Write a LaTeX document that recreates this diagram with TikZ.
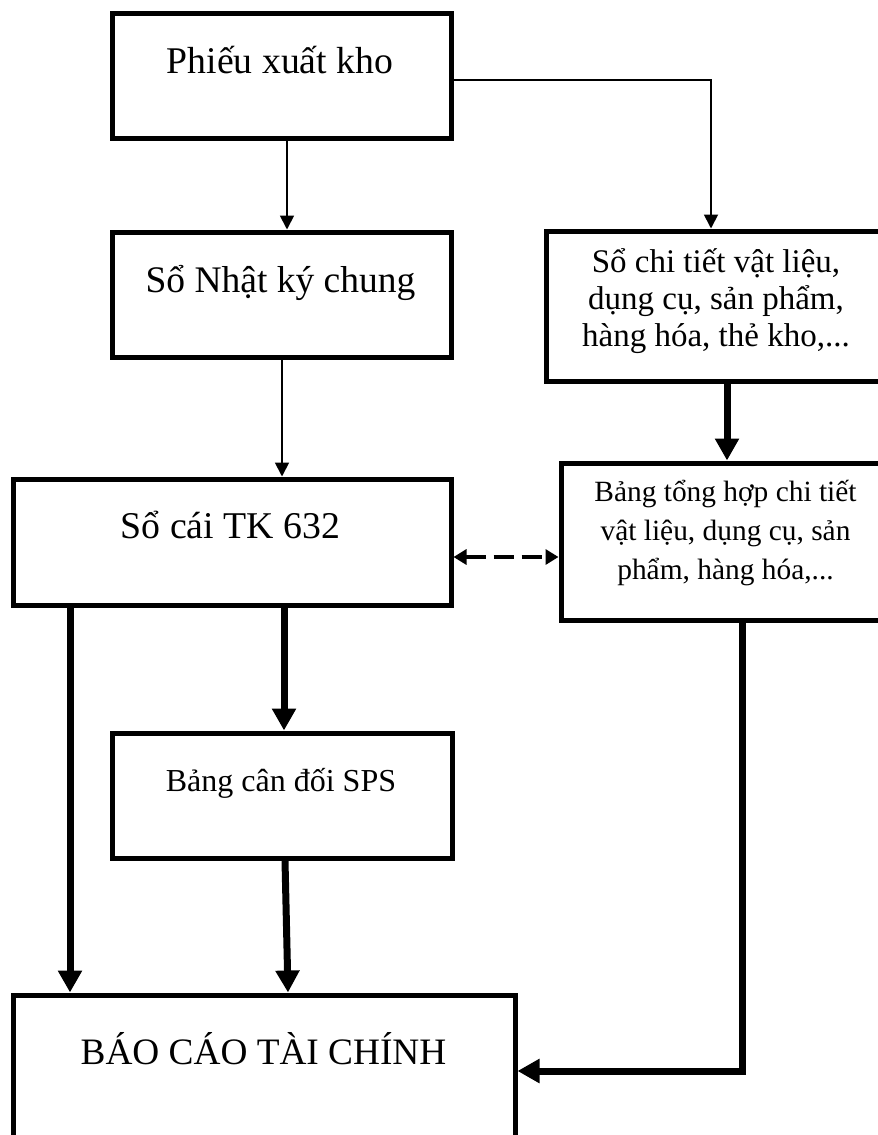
\documentclass[tikz,border=0pt]{standalone}
\usepackage{fontspec}
\setmainfont{Liberation Serif}
\usetikzlibrary{arrows.meta}
\begin{document}
\begin{tikzpicture}[x=1pt,y=-1pt,
  box/.style={draw, line width=5pt, inner sep=0pt, rectangle},
  lbl/.style={anchor=base, align=center, inner sep=0pt},
  thinar/.style={line width=1.8pt, -{Triangle[width=14pt,length=14pt]}},
  thickar/.style={line width=7pt, -{Triangle[width=23pt,length=22pt]}},
  dashar/.style={line width=3.5pt, dash pattern=on 20pt off 8pt,
    {Triangle[width=15pt,length=13pt]}-{Triangle[width=15pt,length=13pt]}},
]
\useasboundingbox (0,0) rectangle (878,1135);
\clip (0,0) rectangle (878,1135);

% boxes
\node[box, minimum width=339pt, minimum height=125pt] (pxk) at (281.5,75.5) {};
\node[box, minimum width=339pt, minimum height=125pt] (nkc) at (281.5,294.5) {};
\node[box, minimum width=354pt, minimum height=150pt] (sct) at (723,306) {};
\node[box, minimum width=438pt, minimum height=126pt] (sc) at (232,542) {};
\node[box, minimum width=339pt, minimum height=157pt] (bth) at (730.5,541.5) {};
\node[box, minimum width=340pt, minimum height=125pt] (bcd) at (282,795.5) {};
\node[box, minimum width=502pt, minimum height=165pt] (bctc) at (264,1077.5) {};

% labels
\node[lbl, font=\fontsize{37.7}{42}\selectfont] (tpxk) at (280,73) {Phiếu xuất kho};
\node[lbl, font=\fontsize{37.5}{42}\selectfont] (tnkc) at (280.5,292) {Sổ Nhật ký chung};
\node[lbl, font=\fontsize{33}{37}\selectfont] (tsct) at (716,346.7) {Sổ chi tiết vật liệu,\\dụng cụ, sản phẩm,\\hàng hóa, thẻ kho,...};
\node[lbl, font=\fontsize{37.8}{42}\selectfont] (tsc) at (230.5,538) {Sổ cái TK 632};
\node[lbl, font=\fontsize{29.4}{38.6}\selectfont] (tbth) at (725.5,579) {Bảng tổng hợp chi tiết\\vật liệu, dụng cụ, sản\\phẩm, hàng hóa,...};
\node[lbl, font=\fontsize{32}{36}\selectfont] (tbcd) at (281,791) {Bảng cân đối SPS};
\node[lbl, font=\fontsize{37.3}{42}\selectfont] (tbctc) at (263.5,1064) {BÁO CÁO TÀI CHÍNH};

% connectors
\draw[thinar] (287,0 |- pxk.south) -- (287,0 |- nkc.north);
\draw[thinar] (pxk.east |- 0,80) -| (711,0 |- sct.north);
\draw[thinar] (282,0 |- nkc.south) -- (282,0 |- sc.north);
\draw[thickar] (727,0 |- sct.south) -- (727,0 |- bth.north);
\draw[dashar] (sc.east |- 0,557) -- (bth.west |- 0,557);
\draw[thickar] (70,0 |- sc.south) -- (70,0 |- bctc.north);
\draw[thickar] (284,0 |- sc.south) -- (284,0 |- bcd.north);
\draw[thickar] (285,0 |- bcd.south) -- (288,0 |- bctc.north);
\draw[thickar] (742,0 |- bth.south) |- (bctc.east |- 0,1071);
\end{tikzpicture}
\end{document}
